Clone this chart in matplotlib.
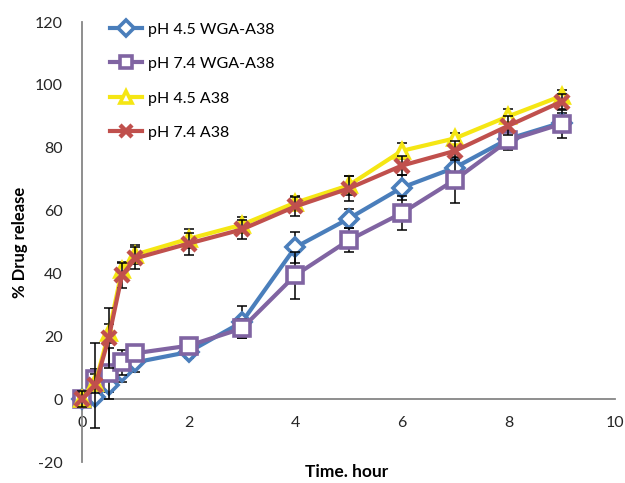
import matplotlib
matplotlib.use("Agg")
import matplotlib.pyplot as plt

plt.rcParams['font.family'] = ['Lato', 'DejaVu Sans']
plt.rcParams['axes.unicode_minus'] = False

# sampling times (hours)
time_h = [0, 0.25, 0.5, 0.75, 1, 2, 3, 4, 5, 6, 7, 8, 9]

# cumulative release (%) and standard deviation for each formulation
ph45_wga = [0, 0.6, 4.4, 8.6, 11.7, 15.0, 24.5, 48.3, 57.4, 67.3, 73.7, 82.8, 88.0]
ph45_wga_sd = [1, 1, 2, 3, 3, 2, 5, 5, 3, 4, 3, 3, 3]

ph74_wga = [0, 6.5, 8.2, 11.7, 14.6, 17.0, 22.5, 39.4, 50.5, 59.2, 69.8, 82.3, 87.6]
ph74_wga_sd = [1, 3, 8, 4, 2.5, 2, 3, 7.5, 3.8, 5.5, 7.3, 3, 4.5]

ph45_a38 = [0, 5.0, 21.0, 41.0, 46.0, 51.0, 55.5, 62.5, 68.0, 79.0, 83.0, 90.0, 96.5]
ph45_a38_sd = [2, 3, 3, 2.5, 3, 3, 2.5, 2, 3, 2.5, 1.6, 2.2, 2]

ph74_a38 = [0, 4.4, 19.4, 39.4, 44.8, 49.5, 54.0, 61.3, 67.0, 74.3, 79.0, 87.0, 94.7]
ph74_a38_sd = [2.5, 13.5, 9.5, 4, 3.5, 3.5, 3, 3, 4, 3, 3, 3, 2.5]

series = [
    ("pH 4.5 WGA-A38", ph45_wga, ph45_wga_sd, "#4A7EBB", "D", 9),
    ("pH 7.4 WGA-A38", ph74_wga, ph74_wga_sd, "#8064A2", "s", 11),
    ("pH 4.5 A38", ph45_a38, ph45_a38_sd, "#F5E614", "^", 10),
    ("pH 7.4 A38", ph74_a38, ph74_a38_sd, "#C0504D", "x", 10),
]

fig = plt.figure(figsize=(6.25, 4.83), dpi=100)
ax = fig.add_axes([82 / 625, 1 - 462 / 483, 533 / 625, 440 / 483])

for i, (name, vals, sd, color, marker, ms) in enumerate(series):
    ax.errorbar(time_h, vals, yerr=sd, fmt="none", ecolor="black",
                elinewidth=1.1, capsize=3.5, capthick=1.1,
                zorder=2 + i * 2, clip_on=False)
    if marker == "x":
        ax.plot(time_h, vals, color=color, lw=3, marker=marker, ms=ms,
                mew=3.2, label=name, zorder=3 + i * 2, clip_on=False)
    else:
        ax.plot(time_h, vals, color=color, lw=3, marker=marker, ms=ms,
                mfc="white", mec=color, mew=2.6, label=name,
                zorder=3 + i * 2, clip_on=False)

ax.set_xlim(0, 10)
ax.set_ylim(-20, 120)
ax.set_xticks(range(0, 11, 2))
ax.set_yticks(range(-20, 121, 20))

for side in ("top", "right"):
    ax.spines[side].set_visible(False)
ax.spines["bottom"].set_position(("data", 0))
for side in ("left", "bottom"):
    ax.spines[side].set_color("#868686")
    ax.spines[side].set_linewidth(1.3)

ax.tick_params(axis="both", length=0, labelsize=11.5, colors="#262626")
ax.tick_params(axis="y", pad=14)
ax.tick_params(axis="x", pad=12)

fig.text(20 / 625, 1 - 242 / 483, "% Drug release", rotation=90,
         ha="center", va="center", fontsize=12, fontweight="bold")
fig.text(347 / 625, 1 - 472 / 483, "Time. hour",
         ha="center", va="center", fontsize=12.5, fontweight="bold")

fig.legend(loc="upper left", bbox_to_anchor=(104 / 625, 1 - 16 / 483),
           frameon=False, fontsize=11.5, handlelength=2.0,
           handletextpad=0.35, labelspacing=1.27, borderaxespad=0,
           markerscale=0.85)

fig.savefig("out.png", dpi=100)
